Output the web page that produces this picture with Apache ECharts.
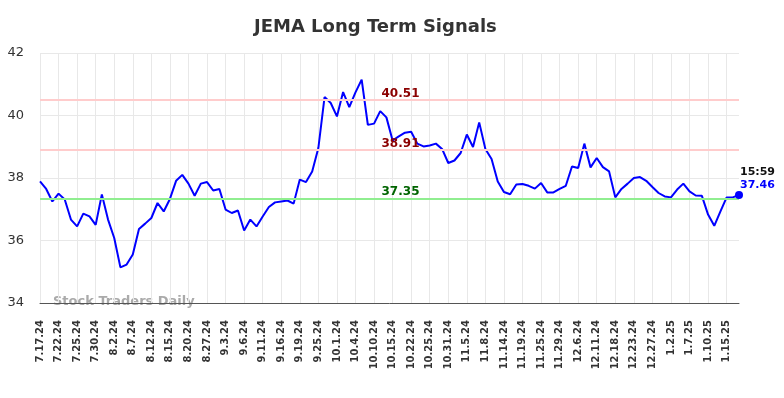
<!DOCTYPE html>
<html>
<head>
    <meta charset="utf-8">
    <title>JEMA Long Term Signals</title>
    <script src="https://cdn.jsdelivr.net/npm/echarts@6/dist/echarts.min.js"></script>
    <style>
        html, body { margin: 0; padding: 0; background: #fff; }
        #chart { width: 784px; height: 398px; }
    </style>
</head>
<body>
<div id="chart"></div>
<script>
    // trading days shown on the x axis (every third one is labelled)
    const dates = [
        '7.17.24', '7.18.24', '7.19.24', '7.22.24', '7.23.24', '7.24.24', '7.25.24', '7.26.24', '7.29.24', '7.30.24',
        '7.31.24', '8.1.24', '8.2.24', '8.5.24', '8.6.24', '8.7.24', '8.8.24', '8.9.24', '8.12.24', '8.13.24',
        '8.14.24', '8.15.24', '8.16.24', '8.19.24', '8.20.24', '8.22.24', '8.26.24', '8.27.24', '8.28.24', '8.30.24',
        '9.3.24', '9.4.24', '9.5.24', '9.6.24', '9.9.24', '9.10.24', '9.11.24', '9.12.24', '9.13.24', '9.16.24',
        '9.17.24', '9.18.24', '9.19.24', '9.20.24', '9.24.24', '9.25.24', '9.26.24', '9.30.24', '10.1.24', '10.2.24',
        '10.3.24', '10.4.24', '10.7.24', '10.9.24', '10.10.24', '10.11.24', '10.14.24', '10.15.24', '10.17.24', '10.21.24',
        '10.22.24', '10.23.24', '10.24.24', '10.25.24', '10.28.24', '10.30.24', '10.31.24', '11.1.24', '11.4.24', '11.5.24',
        '11.6.24', '11.7.24', '11.8.24', '11.12.24', '11.13.24', '11.14.24', '11.15.24', '11.18.24', '11.19.24', '11.20.24',
        '11.22.24', '11.25.24', '11.26.24', '11.27.24', '11.29.24', '12.3.24', '12.5.24', '12.6.24', '12.9.24', '12.10.24',
        '12.11.24', '12.13.24', '12.17.24', '12.18.24', '12.19.24', '12.20.24', '12.23.24', '12.24.24', '12.26.24', '12.27.24',
        '12.30.24', '12.31.24', '1.2.25', '1.3.25', '1.6.25', '1.7.25', '1.8.25', '1.9.25', '1.10.25', '1.13.25',
        '1.14.25', '1.15.25', '1.16.25', '1.17.25'
    ];

    const closes = [
        37.89, 37.65, 37.25, 37.50, 37.31, 36.67, 36.45, 36.86, 36.77, 36.50,
        37.47, 36.67, 36.08, 35.14, 35.23, 35.55, 36.37, 36.54, 36.72, 37.20,
        36.93, 37.33, 37.91, 38.10, 37.82, 37.43, 37.82, 37.87, 37.60, 37.65,
        36.99, 36.88, 36.96, 36.32, 36.67, 36.45, 36.77, 37.07, 37.22, 37.25,
        37.28, 37.18, 37.95, 37.87, 38.21, 38.96, 40.59, 40.40, 39.97, 40.75,
        40.27, 40.74, 41.15, 39.70, 39.74, 40.14, 39.94, 39.20, 39.33, 39.45,
        39.48, 39.10, 39.01, 39.04, 39.10, 38.93, 38.48, 38.56, 38.80, 39.39,
        38.99, 39.78, 38.93, 38.61, 37.89, 37.55, 37.48, 37.79, 37.81, 37.75,
        37.66, 37.84, 37.54, 37.54, 37.65, 37.75, 38.37, 38.32, 39.10, 38.34,
        38.64, 38.35, 38.21, 37.38, 37.65, 37.82, 38.00, 38.03, 37.91, 37.71,
        37.52, 37.41, 37.38, 37.63, 37.82, 37.57, 37.44, 37.43, 36.83, 36.47,
        36.93, 37.38, 37.38, 37.46
    ];

    const yTicks = [34, 36, 38, 40, 42];
    const upperLevels = [40.51, 38.91];   // resistance lines
    const lowerLevels = [37.35];          // support line
    const lastTime = '15:59';

    const chart = echarts.init(document.getElementById('chart'));
    const lastIdx = closes.length - 1;

    const levelLabel = function (color) {
        return {
            position: 'insideMiddleTop',
            distance: 0,
            offset: [11, 0],
            color: color,
            fontFamily: 'DejaVu Sans',
            fontWeight: 'bold',
            fontSize: 12,
            formatter: function (p) { return p.value.toFixed(2); }
        };
    };

    const option = {
        animation: false,
        title: {
            text: 'JEMA Long Term Signals',
            left: 249,
            top: 13,
            textStyle: { fontFamily: 'DejaVu Sans', fontWeight: 'bold', fontSize: 18, color: '#333' }
        },
        grid: { left: 40, right: 45, top: 53, bottom: 95 },
        xAxis: {
            type: 'category',
            data: dates,
            boundaryGap: false,
            axisLine: { lineStyle: { color: '#555', width: 1 } },
            axisTick: { show: false },
            axisLabel: {
                interval: 2,
                rotate: 90,
                margin: 17,
                color: '#333',
                fontFamily: 'DejaVu Sans',
                fontWeight: 'bold',
                fontSize: 10
            },
            splitLine: { show: true, interval: 2, lineStyle: { color: '#e8e8e8', width: 1 } }
        },
        yAxis: {
            type: 'value',
            min: yTicks[0],
            max: yTicks[yTicks.length - 1],
            interval: 2,
            axisLine: { show: false },
            axisTick: { show: false },
            axisLabel: { margin: 16, color: '#333', fontFamily: 'DejaVu Sans', fontSize: 13 },
            splitLine: { lineStyle: { color: '#e8e8e8', width: 1 } }
        },
        graphic: [{
            type: 'text',
            left: 53,
            top: 295,
            style: {
                text: 'Stock Traders Daily',
                fill: '#aaa',
                font: 'bold 13px "DejaVu Sans"'
            }
        }],
        series: [
            {
                type: 'line',
                data: closes,
                showSymbol: false,
                lineStyle: { color: '#0000ff', width: 2 },
                itemStyle: { color: '#0000ff' },
                markLine: {
                    silent: true,
                    symbol: 'none',
                    data: upperLevels.map(function (v) {
                        return { yAxis: v, lineStyle: { color: '#ffcccc', width: 2, type: 'solid' }, label: levelLabel('#8b0000') };
                    }).concat(lowerLevels.map(function (v) {
                        return { yAxis: v, lineStyle: { color: '#90ee90', width: 2, type: 'solid' }, label: levelLabel('#006400') };
                    }))
                },
                markPoint: {
                    silent: true,
                    symbol: 'circle',
                    symbolSize: 8,
                    itemStyle: { color: '#0000ff' },
                    data: [{
                        coord: [dates[lastIdx], closes[lastIdx]],
                        value: closes[lastIdx],
                        label: {
                            show: true,
                            position: [5, -25],
                            align: 'left',
                            verticalAlign: 'top',
                            formatter: function (p) { return '{t|' + lastTime + '}\n{v|' + p.value.toFixed(2) + '}'; },
                            rich: {
                                t: { color: '#111', fontFamily: 'DejaVu Sans', fontWeight: 'bold', fontSize: 11, lineHeight: 13 },
                                v: { color: '#0000ff', fontFamily: 'DejaVu Sans', fontWeight: 'bold', fontSize: 11, lineHeight: 13 }
                            }
                        }
                    }]
                }
            }
        ]
    };

    chart.setOption(option);
</script>
</body>
</html>
